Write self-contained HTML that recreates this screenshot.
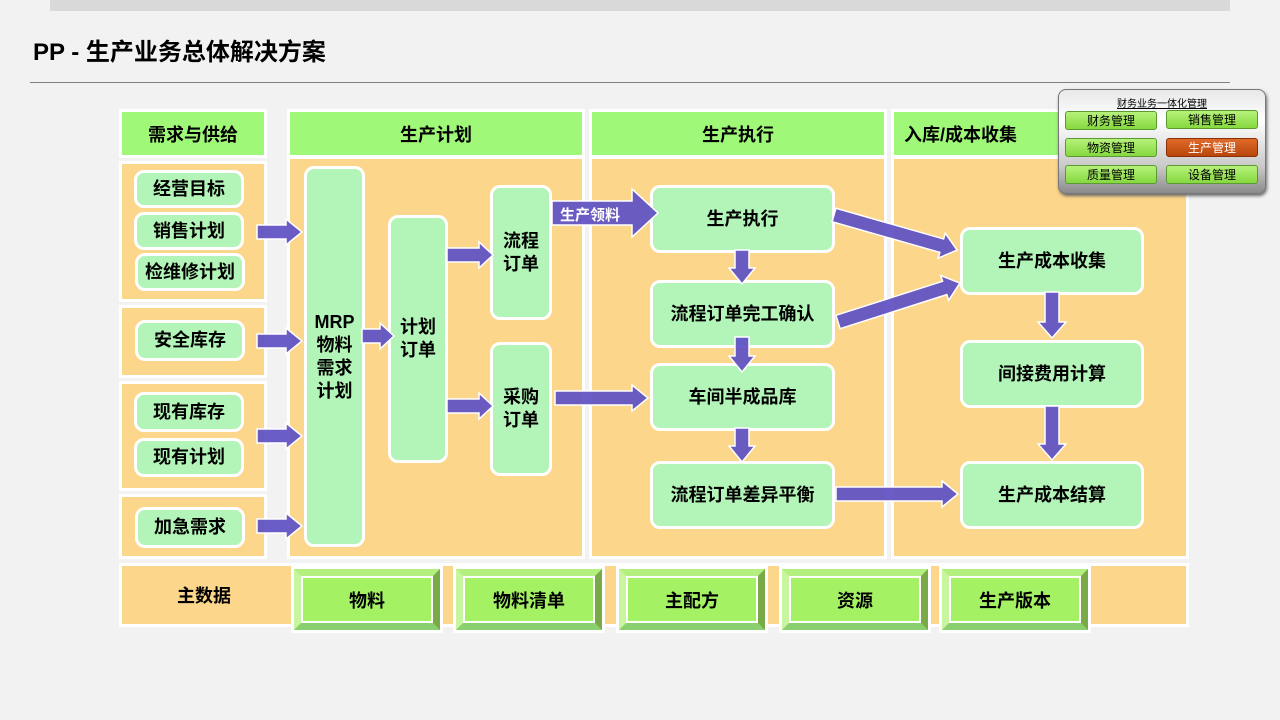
<!DOCTYPE html>
<html><head><meta charset="utf-8"><style>
body{margin:0;width:1280px;height:720px;background:#f2f2f2;position:relative;overflow:hidden;font-family:"Liberation Sans","Noto Sans CJK SC",sans-serif;}
.a{position:absolute;box-sizing:border-box;}
.hd{background:#a0f878;border:3px solid #fff;font-weight:bold;font-size:18px;display:flex;align-items:center;justify-content:center;}
.bg{background:#fcd68a;border:3px solid #fff;}
.n{background:#b3f5b8;border:3px solid #fff;border-radius:10px;font-weight:bold;font-size:18px;display:flex;align-items:center;justify-content:center;text-align:center;line-height:23px;color:#000;}
.bv{background:#a4f264;border-style:solid;border-width:7px;border-color:#b4f080 #7aaa48 #8ad070 #c8f5a0;outline:3px solid #fff;font-weight:bold;font-size:18px;display:flex;align-items:center;justify-content:center;box-shadow:inset 0 0 0 2px #fff;}
.pb{position:absolute;width:92px;height:19px;border-radius:3px;background:linear-gradient(#b6f27a,#86d840);border:1px solid #5a9a30;font-size:12px;display:flex;align-items:center;justify-content:center;box-sizing:border-box;}
</style></head><body>
<div class="a" style="left:50px;top:0;width:1180px;height:11px;background:#d9d9d9"></div>
<div class="a" style="left:33px;top:32px;font-size:24px;font-weight:bold">PP - 生产业务总体解决方案</div>
<div class="a" style="left:30px;top:82px;width:1200px;height:1px;background:#808080"></div>

<div class="a hd" style="left:119px;top:109px;width:148px;height:49px">需求与供给</div>
<div class="a hd" style="left:287px;top:109px;width:298px;height:49px">生产计划</div>
<div class="a hd" style="left:589px;top:109px;width:298px;height:49px">生产执行</div>
<div class="a hd" style="left:891px;top:109px;width:298px;height:49px;justify-content:flex-start;padding-left:10px">入库/成本收集</div>

<div class="a bg" style="left:119px;top:161px;width:148px;height:141px"></div>
<div class="a bg" style="left:119px;top:305px;width:148px;height:73px"></div>
<div class="a bg" style="left:119px;top:381px;width:148px;height:110px"></div>
<div class="a bg" style="left:119px;top:494px;width:148px;height:65px"></div>
<div class="a bg" style="left:287px;top:156px;width:298px;height:403px"></div>
<div class="a bg" style="left:589px;top:156px;width:298px;height:403px"></div>
<div class="a bg" style="left:891px;top:156px;width:298px;height:403px"></div>
<div class="a bg" style="left:119px;top:563px;width:1070px;height:64px"></div>
<div class="a" style="left:119px;top:563px;width:170px;height:64px;display:flex;align-items:center;justify-content:center;font-weight:bold;font-size:18px">主数据</div>

<div class="a bv" style="left:294px;top:569px;width:146px;height:61px">物料</div>
<div class="a bv" style="left:456px;top:569px;width:146px;height:61px">物料清单</div>
<div class="a bv" style="left:619px;top:569px;width:146px;height:61px">主配方</div>
<div class="a bv" style="left:782px;top:569px;width:146px;height:61px">资源</div>
<div class="a bv" style="left:942px;top:569px;width:146px;height:61px">生产版本</div>

<div class="a n" style="left:134px;top:170px;width:110px;height:38px">经营目标</div>
<div class="a n" style="left:134px;top:212px;width:110px;height:38px">销售计划</div>
<div class="a n" style="left:135px;top:253px;width:110px;height:38px">检维修计划</div>
<div class="a n" style="left:135px;top:320px;width:110px;height:41px">安全库存</div>
<div class="a n" style="left:134px;top:392px;width:110px;height:40px">现有库存</div>
<div class="a n" style="left:134px;top:438px;width:110px;height:39px">现有计划</div>
<div class="a n" style="left:135px;top:507px;width:110px;height:41px">加急需求</div>

<div class="a n" style="left:304px;top:166px;width:61px;height:381px">MRP<br>物料<br>需求<br>计划</div>
<div class="a n" style="left:388px;top:215px;width:60px;height:248px">计划<br>订单</div>
<div class="a n" style="left:490px;top:185px;width:62px;height:135px">流程<br>订单</div>
<div class="a n" style="left:490px;top:342px;width:62px;height:134px">采购<br>订单</div>

<div class="a n" style="left:650px;top:185px;width:185px;height:68px">生产执行</div>
<div class="a n" style="left:650px;top:280px;width:185px;height:68px">流程订单完工确认</div>
<div class="a n" style="left:650px;top:363px;width:185px;height:68px">车间半成品库</div>
<div class="a n" style="left:650px;top:461px;width:185px;height:68px">流程订单差异平衡</div>
<div class="a n" style="left:960px;top:227px;width:184px;height:68px">生产成本收集</div>
<div class="a n" style="left:960px;top:340px;width:184px;height:68px">间接费用计算</div>
<div class="a n" style="left:960px;top:461px;width:184px;height:68px">生产成本结算</div>

<svg class="a" style="left:0;top:0" width="1280" height="720">
<g fill="#6254c4" fill-opacity="0.95" stroke="#fff" stroke-width="1.5">
<polygon points="257,225 286,225 286,219 302,232 286,245 286,239 257,239"/>
<polygon points="257,334 286,334 286,328 302,341 286,354 286,348 257,348"/>
<polygon points="257,429 286,429 286,423 302,436 286,449 286,443 257,443"/>
<polygon points="257,519 286,519 286,513 302,526 286,539 286,533 257,533"/>
<polygon points="362,329 380,329 380,323 394,336 380,349 380,343 362,343"/>
<polygon points="447,248 479,248 479,242 493,255 479,268 479,262 447,262"/>
<polygon points="447,399 479,399 479,393 493,406 479,419 479,413 447,413"/>
<polygon points="552,201 632,201 632,189 658,213 632,237 632,225 552,225"/>
<polygon points="555,391 632,391 632,385 648,398 632,411 632,405 555,405"/>
<polygon points="836,487 942,487 942,481 958,494 942,507 942,501 836,501"/>
<polygon points="735,250 749,250 749,268 755,268 742,284 729,268 735,268"/>
<polygon points="735,337 749,337 749,356 755,356 742,372 729,356 735,356"/>
<polygon points="735,428 749,428 749,446 755,446 742,462 729,446 735,446"/>
<polygon points="1045,292 1059,292 1059,322 1066,322 1052,338 1038,322 1045,322"/>
<polygon points="1045,406 1059,406 1059,444 1066,444 1052,460 1038,444 1045,444"/>
<g transform="translate(834,215) rotate(15.9)"><polygon points="0,-7 112,-7 112,-13 128,0 112,13 112,7 0,7"/></g>
<g transform="translate(838,322) rotate(-17.7)"><polygon points="0,-7 112,-7 112,-13 128,0 112,13 112,7 0,7"/></g>
</g>
<text x="560" y="220" fill="#fff" font-size="15" font-weight="bold" font-family="Liberation Sans,Noto Sans CJK SC,sans-serif">生产领料</text>
</svg>

<div class="a" style="left:1058px;top:89px;width:208px;height:105px;border-radius:8px;background:linear-gradient(#e8e8e8,#fff 30%,#c8c8c8 75%,#8a8a8a);border:1px solid #777;box-shadow:1px 2px 3px #666"></div>
<div class="a" style="left:1058px;top:95px;width:208px;text-align:center;font-size:10px;text-decoration:underline">财务业务一体化管理</div>
<div class="pb" style="left:1065px;top:111px">财务管理</div>
<div class="pb" style="left:1166px;top:110px">销售管理</div>
<div class="pb" style="left:1065px;top:138px">物资管理</div>
<div class="pb" style="left:1166px;top:138px;background:linear-gradient(#e06a28,#b8460c);border-color:#8a3008;color:#fff">生产管理</div>
<div class="pb" style="left:1065px;top:165px">质量管理</div>
<div class="pb" style="left:1166px;top:165px">设备管理</div>
</body></html>
